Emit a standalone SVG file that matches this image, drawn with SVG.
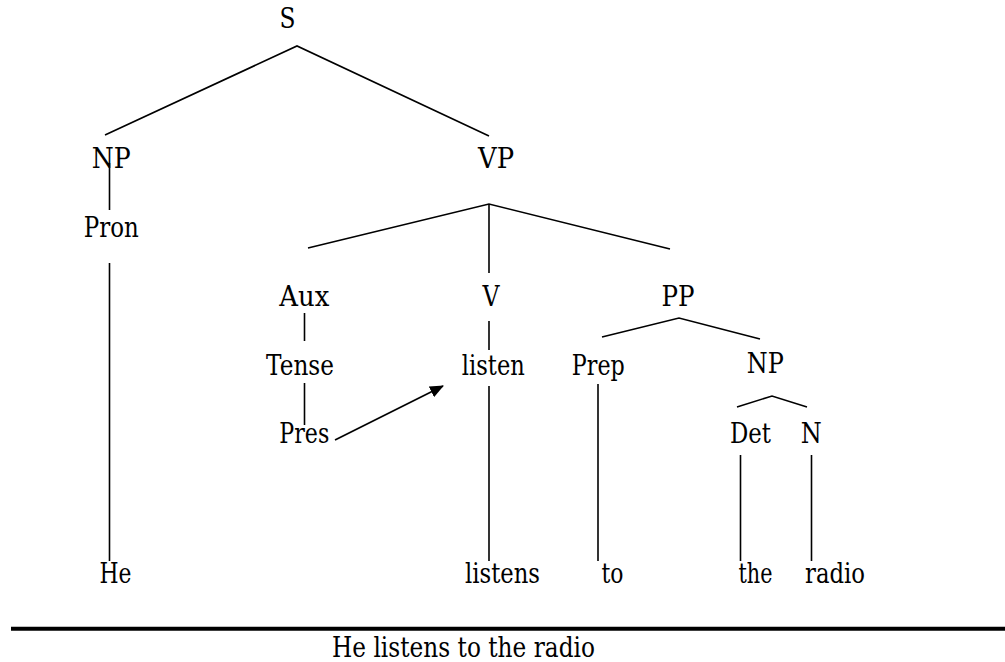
<svg xmlns="http://www.w3.org/2000/svg" width="1005" height="662" viewBox="0 0 1005 662">
  <style>
    .edge { stroke: #000; stroke-width: 1.6; fill: none; }
    .rule { stroke: #000; stroke-width: 4; }
  </style>
  <defs>
    <marker id="arrowhead" markerWidth="14" markerHeight="12" refX="13" refY="6" orient="auto" markerUnits="userSpaceOnUse">
      <path d="M0,0 L14,6 L0,12 Z" fill="#000"/>
    </marker>
  </defs>
  <rect width="1005" height="662" fill="#fff"/>

  <!-- tree branches -->
  <g id="connectors">
    <!-- S -> NP, VP -->
    <polyline class="edge" points="105,135 297,46 489,136"/>
    <!-- NP -> Pron -> He -->
    <line class="edge" x1="109.5" y1="163" x2="109.5" y2="210"/>
    <line class="edge" x1="109.5" y1="263" x2="109.5" y2="561"/>
    <!-- VP -> Aux, V, PP -->
    <polyline class="edge" points="308,248 489,204 670,249"/>
    <line class="edge" x1="489" y1="204" x2="489" y2="273"/>
    <!-- Aux -> Tense -> Pres -->
    <line class="edge" x1="304.5" y1="313" x2="304.5" y2="341"/>
    <line class="edge" x1="304.5" y1="383" x2="304.5" y2="425"/>
    <!-- V -> listen -> listens -->
    <line class="edge" x1="489" y1="321" x2="489" y2="350"/>
    <line class="edge" x1="489" y1="386" x2="489" y2="561"/>
    <!-- PP -> Prep, NP -->
    <polyline class="edge" points="602,337 679,318 760,339"/>
    <!-- Prep -> to -->
    <line class="edge" x1="598" y1="384" x2="598" y2="561"/>
    <!-- NP -> Det, N -->
    <polyline class="edge" points="737,407 772,396 807,407"/>
    <!-- Det -> the, N -> radio -->
    <line class="edge" x1="740.5" y1="455" x2="740.5" y2="561"/>
    <line class="edge" x1="811.5" y1="455" x2="811.5" y2="561"/>
    <!-- tense affix hops onto the verb -->
    <line class="edge" x1="335" y1="440" x2="443" y2="386" marker-end="url(#arrowhead)"/>
  </g>

  <!-- labels: serif face, each squeezed to a Times-like advance width -->
  <g font-family="DejaVu Serif, serif" font-size="27" fill="#000" text-anchor="middle">
    <g id="node-S"><text x="287.5" y="28" textLength="16" lengthAdjust="spacingAndGlyphs">S</text></g>
    <g id="node-NP1"><text x="111.2" y="168" textLength="39" lengthAdjust="spacingAndGlyphs">NP</text></g>
    <g id="node-VP"><text x="496" y="168" textLength="36" lengthAdjust="spacingAndGlyphs">VP</text></g>
    <g id="node-Pron"><text x="111.3" y="237" textLength="55" lengthAdjust="spacingAndGlyphs">Pron</text></g>
    <g id="node-Aux"><text x="304.3" y="306" textLength="50" lengthAdjust="spacingAndGlyphs">Aux</text></g>
    <g id="node-V"><text x="491" y="306" textLength="17" lengthAdjust="spacingAndGlyphs">V</text></g>
    <g id="node-PP"><text x="678" y="306" textLength="33" lengthAdjust="spacingAndGlyphs">PP</text></g>
    <g id="node-Tense"><text x="300" y="375" textLength="68" lengthAdjust="spacingAndGlyphs">Tense</text></g>
    <g id="node-listen"><text x="493.3" y="375" textLength="63" lengthAdjust="spacingAndGlyphs">listen</text></g>
    <g id="node-Prep"><text x="598.3" y="375" textLength="53" lengthAdjust="spacingAndGlyphs">Prep</text></g>
    <g id="node-NP2"><text x="765.3" y="373" textLength="37" lengthAdjust="spacingAndGlyphs">NP</text></g>
    <g id="node-Pres"><text x="304.3" y="443" textLength="50" lengthAdjust="spacingAndGlyphs">Pres</text></g>
    <g id="node-Det"><text x="750.5" y="443" textLength="41" lengthAdjust="spacingAndGlyphs">Det</text></g>
    <g id="node-N"><text x="811.2" y="443" textLength="21" lengthAdjust="spacingAndGlyphs">N</text></g>

    <g id="node-He"><text x="115.5" y="583" textLength="32" lengthAdjust="spacingAndGlyphs">He</text></g>
    <g id="node-listens"><text x="502.5" y="583" textLength="75" lengthAdjust="spacingAndGlyphs">listens</text></g>
    <g id="node-to"><text x="612.5" y="583" textLength="22" lengthAdjust="spacingAndGlyphs">to</text></g>
    <g id="node-the"><text x="755.5" y="583" textLength="34" lengthAdjust="spacingAndGlyphs">the</text></g>
    <g id="node-radio"><text x="835" y="583" textLength="60" lengthAdjust="spacingAndGlyphs">radio</text></g>

    <!-- rule and caption -->
    <g id="caption">
      <line class="rule" x1="11" y1="628.7" x2="1005" y2="628.7"/>
      <text font-size="27" x="463.5" y="656.5" textLength="263" lengthAdjust="spacingAndGlyphs">He listens to the radio</text>
    </g>
  </g>
</svg>
